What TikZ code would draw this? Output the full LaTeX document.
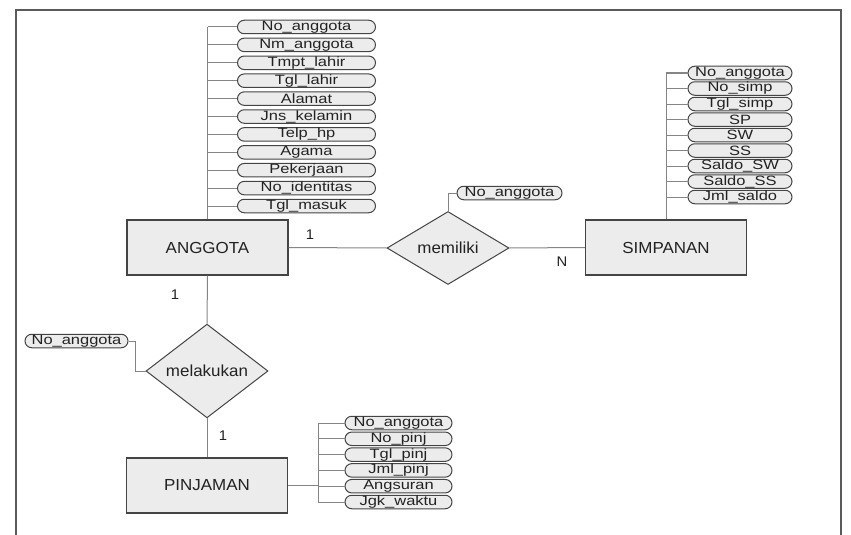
\documentclass[tikz,border=0pt]{standalone}
\usepackage{fontspec}
\setmainfont{Liberation Sans}
\newfontfamily\attrfont{Liberation Sans}[FakeStretch=1.22]
\newfontfamily\entfont{Liberation Sans}[FakeStretch=1.06]
\usetikzlibrary{shapes.geometric}
\definecolor{boxfill}{HTML}{ECECEC}
\definecolor{edgegray}{HTML}{444444}
\definecolor{wiregray}{HTML}{858585}
\definecolor{framegray}{HTML}{5A5A5A}
\definecolor{textgray}{HTML}{222222}

\begin{document}
\begin{tikzpicture}[x=1pt,y=-1pt,
  entity/.style={draw=edgegray, line width=1.2pt, fill=boxfill, text=textgray,
    minimum width=161pt, minimum height=55pt, inner sep=0pt,
    font=\entfont\fontsize{16}{16}\selectfont},
  relation/.style={diamond, draw=edgegray, line width=1pt, fill=boxfill, text=textgray,
    minimum width=122pt, minimum height=72pt, inner sep=0pt,
    font=\entfont\fontsize{16}{16}\selectfont},
  attr/.style={draw=edgegray, line width=1pt, fill=boxfill, text=textgray,
    rounded corners=6.75pt, minimum height=13.5pt, inner sep=0pt,
    font=\attrfont\fontsize{13.5}{13.5}\selectfont},
  wire/.style={draw=wiregray, line width=1pt},
  card/.style={inner sep=0pt, text=textgray, font=\entfont\fontsize{14}{14}\selectfont},
  border/.style={draw=framegray, line width=2pt}]

\useasboundingbox (0,0) rectangle (851,535);

% outer frame (open at the bottom)
\draw[border] (16,535) -- (16,10) -- (841,10) -- (841,535);

% entities
\node[entity] (anggota)  at (207.5,247.5) {ANGGOTA};
\node[entity] (simpanan) at (666,247.5)   {SIMPANAN};
\node[entity] (pinjaman) at (207,485.5)   {PINJAMAN};

% relationships
\node[relation] (memiliki)  at (448,248) {memiliki};
\node[relation] (melakukan) at (207,371) {melakukan};

% attributes of ANGGOTA
\foreach \txt [count=\i from 0] in {No\_anggota,Nm\_anggota,Tmpt\_lahir,Tgl\_lahir,Alamat,Jns\_kelamin,Telp\_hp,Agama,Pekerjaan,No\_identitas,Tgl\_masuk}
  \node[attr, minimum width=138pt] (a\i) at (306.5,27+17.9*\i) {\txt};

% attributes of SIMPANAN
\foreach \txt [count=\i from 0] in {No\_anggota,No\_simp,Tgl\_simp,SP,SW,SS,Saldo\_SW,Saldo\_SS,Jml\_saldo}
  \node[attr, minimum width=104pt] (s\i) at (740,73+15.5*\i) {\txt};

% attributes of PINJAMAN
\foreach \txt [count=\i from 0] in {No\_anggota,No\_pinj,Tgl\_pinj,Jml\_pinj,Angsuran,Jgk\_waktu}
  \node[attr, minimum width=107pt] (p\i) at (398.5,423+15.8*\i) {\txt};

% attributes of the relationships
\node[attr, minimum width=105pt] (mk) at (509.5,193) {No\_anggota};
\node[attr, minimum width=103pt] (ml) at (76.5,341)  {No\_anggota};

% attribute trunks
\draw[wire] (anggota.north) -- (anggota.north |- a0.west);
\foreach \i in {0,...,10}
  \draw[wire] (a\i.west) -- (anggota.north |- a\i.west);

\draw[wire] (simpanan.north) -- (simpanan.north |- s0.west);
\foreach \i in {0,...,8}
  \draw[wire] (s\i.west) -- (simpanan.north |- s\i.west);

\coordinate (pjoint) at (318,0);
\draw[wire] (pjoint |- p0.west) -- (pjoint |- p5.west);
\draw[wire, line width=1.8pt] (pinjaman.east) -- (pjoint |- pinjaman.east);
\foreach \i in {0,...,5}
  \draw[wire] (p\i.west) -- (pjoint |- p\i.west);

\draw[wire] (memiliki.north) |- (mk.west);

\coordinate (mlbend) at (135,0);
\draw[wire] (ml.east) -- (mlbend |- ml.east) -- (mlbend |- melakukan.west) -- (melakukan.west);

% relationship lines
\draw[wire] (anggota.east) -- (memiliki.west);
\draw[wire] (memiliki.east) -- (simpanan.west);
\draw[wire] (anggota.south) -- (melakukan.north);
\draw[wire] (melakukan.south) -- (pinjaman.north);

% cardinalities
\node[card] (c1) at (310,235) {1};
\node[card] (c2) at (562,262) {N};
\node[card] (c3) at (175,295) {1};
\node[card] (c4) at (223,436) {1};
\end{tikzpicture}
\end{document}
